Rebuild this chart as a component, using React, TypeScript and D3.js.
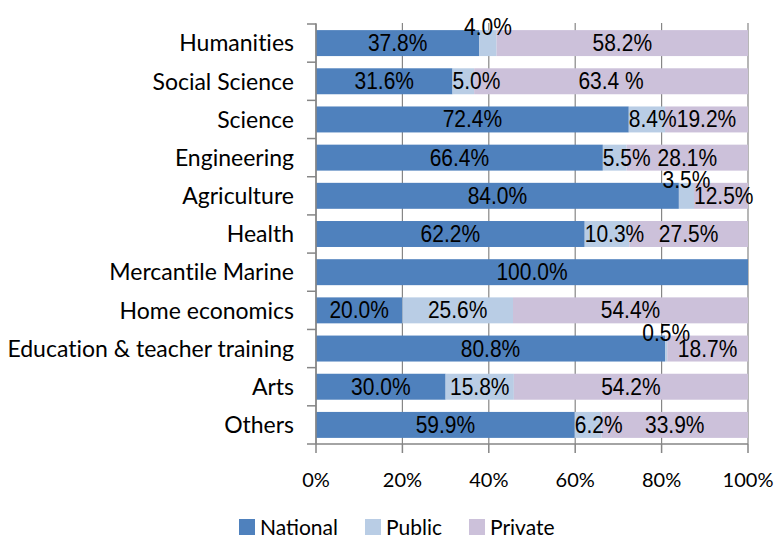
import React from 'react';
import * as d3 from 'd3';

const categories = [
  'Humanities', 'Social Science', 'Science', 'Engineering', 'Agriculture', 'Health',
  'Mercantile Marine', 'Home economics', 'Education & teacher training', 'Arts', 'Others',
];
const national = [37.8, 31.6, 72.4, 66.4, 84.0, 62.2, 100.0, 20.0, 80.8, 30.0, 59.9];
const publicShare = [4.0, 5.0, 8.4, 5.5, 3.5, 10.3, 0, 25.6, 0.5, 15.8, 6.2];
const privateShare = [58.2, 63.4, 19.2, 28.1, 12.5, 27.5, 0, 54.4, 18.7, 54.2, 33.9];
const seriesNames = ['National', 'Public', 'Private'];
const xTicks = [0, 20, 40, 60, 80, 100];
// label text as printed in the source, where it differs from plain formatting
const labelOverrides: Record<string, string> = { 'Social Science|Private': '63.4 %' };

const colors = ['#4F81BD', '#B9CDE5', '#CCC1DA'];
const width = 777;
const height = 540;
const margin = { top: 24, right: 29, bottom: 97, left: 316 };

const rows = categories.map((c, i) => ({
  category: c,
  National: national[i],
  Public: publicShare[i],
  Private: privateShare[i],
}));

const fmt = d3.format('.1f');
const labelFont = '"Liberation Sans", Arial, sans-serif';
const axisFont = 'Lato, "Open Sans", sans-serif';
const noLig = { fontVariantLigatures: 'none' } as React.CSSProperties;

// rough Arial advance widths at 1em
const textWidth = (s: string, size: number) =>
  d3.sum(s.split(''), ch => (ch === '%' ? 0.889 : ch === '.' || ch === ' ' ? 0.278 : 0.556)) * size;

export default function App() {
  const x = d3.scaleLinear().domain([0, 100]).range([margin.left, width - margin.right]);
  const y = d3.scaleBand<string>()
    .domain(categories)
    .range([margin.top, height - margin.bottom + 1])
    .paddingInner(0.32)
    .paddingOuter(0.16);
  const stack = d3.stack<any>().keys(seriesNames)(rows);
  const step = y.step();
  const bottom = height - margin.bottom + 1;
  const labelSize = 21;

  const bandEdges = d3.range(categories.length + 1).map(i => margin.top + i * step);

  return (
    <svg width={width} height={height} style={{ display: 'block', position: 'absolute', left: 0, top: 0 }}>
      <rect width={width} height={height} fill="#fff" />
      {xTicks.map(t => (
        <line key={'g' + t} x1={x(t)} x2={x(t)} y1={margin.top - 1} y2={bottom}
          stroke="#868686" strokeWidth={1.2} />
      ))}
      {stack.map((s, si) => (
        <g key={s.key} fill={colors[si]}>
          {s.map((d, i) => (
            <rect key={i} x={x(d[0])} y={y(categories[i])} width={Math.max(0, x(d[1]) - x(d[0]))}
              height={y.bandwidth()} />
          ))}
        </g>
      ))}
      {/* axes */}
      <line x1={margin.left} x2={margin.left} y1={margin.top} y2={bottom} stroke="#868686" strokeWidth={1.5} />
      {bandEdges.map((e, i) => (
        <line key={'yt' + i} x1={margin.left - 9} x2={margin.left} y1={e} y2={e} stroke="#868686" strokeWidth={1.5} />
      ))}
      <line x1={margin.left} x2={x(100)} y1={bottom} y2={bottom} stroke="#868686" strokeWidth={1.5} />
      {xTicks.map(t => (
        <g key={'xt' + t}>
          <line x1={x(t)} x2={x(t)} y1={bottom} y2={bottom + 9} stroke="#868686" strokeWidth={1.5} />
          <text x={x(t)} y={bottom + 43} textAnchor="middle" fontFamily={axisFont} fontSize={20} fill="#000">
            {t}%
          </text>
        </g>
      ))}
      {categories.map(c => (
        <text key={c} x={294} y={y(c)! + y.bandwidth() / 2} dy="0.36em" textAnchor="end"
          fontFamily={axisFont} fontSize={23} fill="#000" style={noLig}>
          {c}
        </text>
      ))}
      {/* data labels */}
      {stack.map(s => s.map((d, i) => {
        const v = d[1] - d[0];
        if (v <= 0) return null;
        const key = categories[i] + '|' + s.key;
        const txt = labelOverrides[key] ?? fmt(v) + '%';
        const x0 = x(d[0]);
        const x1 = x(d[1]);
        const top = y(categories[i])!;
        const w = textWidth(txt, labelSize);
        let tx = (x0 + x1) / 2;
        let anchor = 'middle';
        let ty = top + y.bandwidth() / 2 + 8;
        if (v < 4.5) {
          // thin slices: label sits on the bar's top edge
          ty = top + 5;
        } else if (w > x1 - x0) {
          tx = x0;
          anchor = 'start';
        }
        return (
          <text key={key} transform={`translate(${tx},${ty}) scale(1,1.12)`} textAnchor={anchor}
            fontFamily={labelFont} fontSize={labelSize} fill="#000">
            {txt}
          </text>
        );
      }))}
      {/* legend */}
      {seriesNames.map((n, i) => {
        const lx = [239, 365, 469][i];
        return (
          <g key={n} transform={`translate(${lx},519)`}>
            <rect width={16} height={16} fill={colors[i]} />
            <text x={21} y={16} fontFamily={axisFont} fontSize={21} fill="#000">{n}</text>
          </g>
        );
      })}
    </svg>
  );
}
